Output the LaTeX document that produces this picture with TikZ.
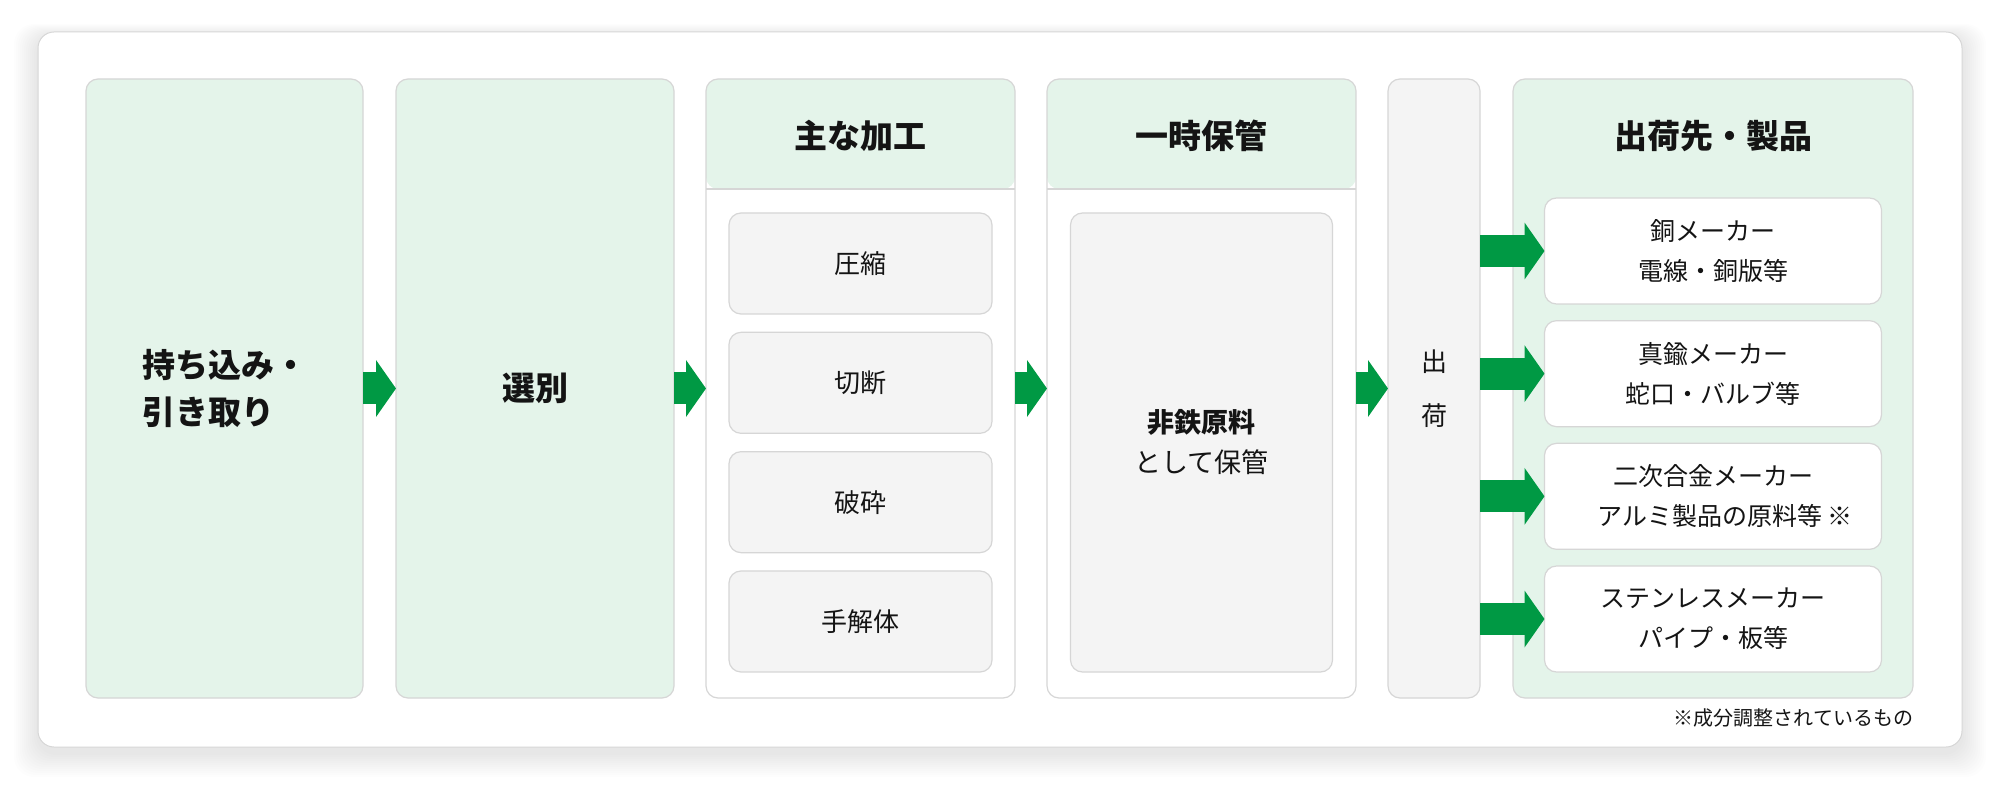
\documentclass[tikz,border=0pt]{standalone}
\usepackage{fontspec}
\setmainfont{Noto Sans CJK JP}
\usepackage{tikz}
\usetikzlibrary{arrows.meta,positioning,calc}
\definecolor{flowGreen}{RGB}{0,153,68}
\definecolor{paleGreen}{RGB}{228,244,234}
\definecolor{paleGray}{RGB}{244,244,244}
\definecolor{lineGray}{RGB}{214,214,214}
\definecolor{inkBlack}{RGB}{20,20,20}

\begin{document}
\begin{tikzpicture}[
  x=1pt, y=1pt,
  text=inkBlack,
  every node/.style={inner sep=0pt, outer sep=0pt},
  col/.style={
    draw=lineGray, line width=1.2pt, rounded corners=12pt,
    minimum height=619pt, align=center
  },
  greencol/.style={col, fill=paleGreen},
  headcol/.style={col, fill=white,
    path picture={\fill[paleGreen] (path picture bounding box.north west)
      rectangle ([yshift=-110pt]path picture bounding box.north east);}},
  subbox/.style={
    draw=lineGray, line width=1.2pt, rounded corners=12pt, fill=paleGray,
    minimum width=263pt, minimum height=101pt,
    font=\fontsize{26}{36}\selectfont
  },
  prodbox/.style={
    draw=lineGray, line width=1.2pt, rounded corners=12pt, fill=white,
    minimum width=337pt, minimum height=106pt, align=center,
    font=\fontsize{25}{40}\selectfont
  },
  heading/.style={font=\fontsize{33}{47}\selectfont\bfseries},
  flow/.style={draw=flowGreen, line width=32pt,
    -{Triangle[length=20pt,width=56pt]}}
]
\useasboundingbox (0,0) rectangle (2000,-791);

% Card and its shadow
\foreach \s in {1,...,12}
  \fill[black, opacity=0.006, rounded corners=20pt]
    (38-2*\s,-36+\s) rectangle (1962+2*\s,-753-2*\s);
\draw[lineGray, line width=1pt, fill=white, rounded corners=16pt]
  (38,-32) rectangle (1962,-747);

% Columns
\node[greencol, minimum width=277pt, heading, align=left] (bring)
  at (224.5,-388.5) {持ち込み・\\引き取り};
\node[greencol, minimum width=278pt, heading, right=33pt of bring] (sort) {選別};
\node[headcol, minimum width=309pt, right=32pt of sort] (proc) {};
\node[headcol, minimum width=309pt, right=32pt of proc] (store) {};
\node[col, fill=paleGray, minimum width=92pt, right=32pt of store,
  font=\fontsize{26}{54}\selectfont] (ship) {出\\荷};
\node[greencol, minimum width=400pt, right=33pt of ship] (dest) {};

% Headers
\draw[lineGray, line width=1.2pt]
  ([yshift=-110pt]proc.north west) -- ([yshift=-110pt]proc.north east);
\draw[lineGray, line width=1.2pt]
  ([yshift=-110pt]store.north west) -- ([yshift=-110pt]store.north east);
\node[heading] at ([yshift=-57pt]proc.north) {主な加工};
\node[heading] at ([yshift=-57pt]store.north) {一時保管};
\node[heading] at ([yshift=-57pt]dest.north) {出荷先・製品};

% Processing steps
\node[subbox, below=134pt of proc.north] (press) {圧縮};
\node[subbox, below=18.33pt of press] (cut) {切断};
\node[subbox, below=18.33pt of cut] (crush) {破砕};
\node[subbox, below=18.33pt of crush] (dismantle) {手解体};

% Storage
\node[subbox, minimum width=262pt, minimum height=459pt, align=center,
  font=\fontsize{27}{40}\selectfont, below=134pt of store.north] (keep)
  {\textbf{非鉄原料}\\として保管};

% Destinations
\node[prodbox, below=119pt of dest.north] (copper) {銅メーカー\\電線・銅版等};
\node[prodbox, below=16.67pt of copper] (brass) {真鍮メーカー\\蛇口・バルブ等};
\node[prodbox, below=16.67pt of brass] (alloy)
  {二次合金メーカー\\\hspace*{24pt}アルミ製品の原料等 ※};
\node[prodbox, below=16.67pt of alloy] (stainless) {ステンレスメーカー\\パイプ・板等};

\node[anchor=north east, font=\fontsize{20}{24}\selectfont] (note)
  at ([yshift=-11pt]dest.south east) {※成分調整されているもの};

% Arrows
\draw[flow] (bring.east) -- (sort.west);
\draw[flow] (sort.east) -- (proc.west);
\draw[flow] (proc.east) -- (store.west);
\draw[flow] (store.east) -- (ship.west);
\foreach \p in {copper,brass,alloy,stainless}
  \draw[flow] (ship.east |- \p) -- (\p.west);

\end{tikzpicture}
\end{document}
